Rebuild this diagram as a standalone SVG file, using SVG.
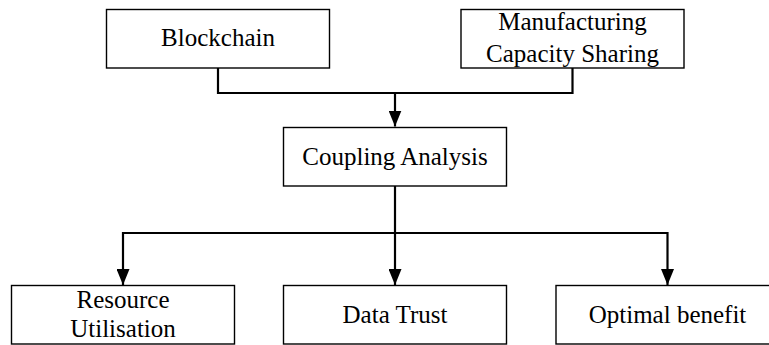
<svg xmlns="http://www.w3.org/2000/svg" width="769" height="345" viewBox="0 0 769 345">
  <style>
    .box { fill: #ffffff; stroke: #000000; stroke-width: 1.4; }
    .lbl { font-family: "Liberation Serif", "Times New Roman", serif; font-size: 25px; fill: #000000; text-anchor: middle; }
    .con { fill: none; stroke: #000000; stroke-width: 2.2; }
  </style>
  <defs>
    <marker id="arrow" viewBox="0 0 16 13" markerUnits="userSpaceOnUse" markerWidth="16" markerHeight="13" refX="16" refY="6.5" orient="auto">
      <path d="M0,0 L16,6.5 L0,13 z" fill="#000000"/>
    </marker>
  </defs>
  <rect width="769" height="345" fill="#ffffff"/>

  <g id="connectors">
    <path class="con" d="M218,68 V93 H572.5 V68"/>
    <path class="con" d="M395,93 V126.5" marker-end="url(#arrow)"/>
    <path class="con" d="M395,186 V233"/>
    <path class="con" d="M395,233 H123 V285" marker-end="url(#arrow)"/>
    <path class="con" d="M395,233 V285" marker-end="url(#arrow)"/>
    <path class="con" d="M395,233 H667.5 V285" marker-end="url(#arrow)"/>
  </g>

  <g id="blockchain">
    <rect class="box" x="106.5" y="9.5" width="223" height="58.5"/>
    <text class="lbl" x="218" y="46">Blockchain</text>
  </g>
  <g id="manufacturing">
    <rect class="box" x="461" y="9.5" width="223" height="58.5"/>
    <text class="lbl" x="572.5" y="29.5">Manufacturing</text>
    <text class="lbl" x="572.5" y="62">Capacity Sharing</text>
  </g>
  <g id="coupling">
    <rect class="box" x="283.5" y="127.5" width="223" height="58.5"/>
    <text class="lbl" x="395" y="165">Coupling Analysis</text>
  </g>
  <g id="resource">
    <rect class="box" x="11.5" y="285.5" width="223" height="58.5"/>
    <text class="lbl" x="123" y="307.5">Resource</text>
    <text class="lbl" x="123" y="337">Utilisation</text>
  </g>
  <g id="datatrust">
    <rect class="box" x="283.5" y="285.5" width="223" height="58.5"/>
    <text class="lbl" x="395" y="323">Data Trust</text>
  </g>
  <g id="optimal">
    <rect class="box" x="556" y="285.5" width="223" height="58.5"/>
    <text class="lbl" x="667.5" y="323">Optimal benefit</text>
  </g>
</svg>
